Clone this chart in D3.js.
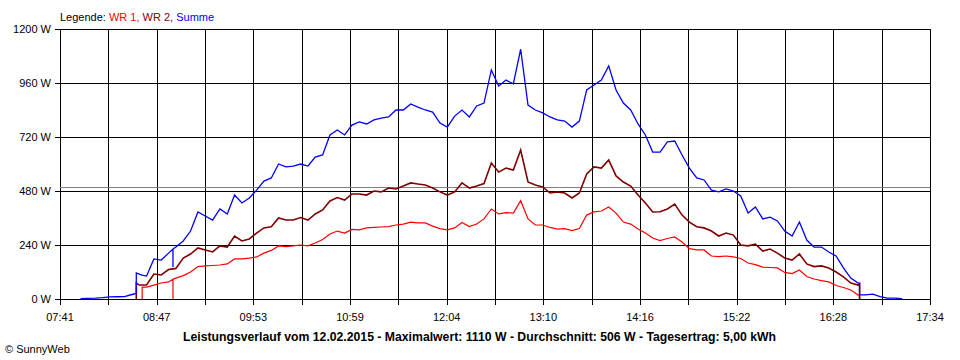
<!DOCTYPE html>
<html><head><meta charset="utf-8">
<script src="https://cdn.jsdelivr.net/npm/d3@7"></script>
<style>
body{margin:0;background:#fff}
svg{display:block}
text{font-family:"Liberation Sans",Arial,sans-serif;}
</style>
</head><body>
<svg id="c" width="960" height="360"></svg>
<script>
// ---- data ----
const times = ["07:55","08:00","08:05","08:10","08:15","08:20","08:25","08:30","08:33","08:33","08:35","08:37","08:37","08:40","08:45","08:50","08:55","08:58","08:58","08:58",
"09:00","09:05","09:10","09:15","09:20","09:25","09:30","09:35","09:40","09:45","09:50","09:55",
"10:00","10:05","10:10","10:15","10:20","10:25","10:30","10:35","10:40","10:45","10:50","10:55",
"11:00","11:05","11:10","11:15","11:20","11:25","11:30","11:35","11:40","11:45","11:50","11:55",
"12:00","12:05","12:10","12:15","12:20","12:25","12:30","12:35","12:40","12:45","12:50","12:55",
"13:00","13:05","13:10","13:15","13:20","13:25","13:30","13:35","13:40","13:45","13:50","13:55",
"14:00","14:05","14:10","14:15","14:20","14:25","14:30","14:35","14:40","14:45","14:50","14:55",
"15:00","15:05","15:10","15:15","15:20","15:25","15:30","15:35","15:40","15:45","15:50","15:55",
"16:00","16:05","16:10","16:15","16:20","16:25","16:30","16:35","16:40","16:45","16:46","16:46",
"16:50","16:55","17:00","17:05","17:10","17:15"];
const wr1 = [null,null,null,null,null,null,null,null,null,null,null,0,53,53,62,71,76,88,0,88,
93,104,120,144,147,149,151,156,178,178,182,187,
204,216,236,233,236,240,236,249,264,289,302,293,
309,307,316,318,320,322,329,333,342,338,338,324,
313,307,316,340,322,333,356,400,378,384,382,437,
356,329,329,318,311,313,304,313,373,387,391,409,
382,342,333,311,293,271,260,269,276,253,224,218,
218,191,188,191,187,180,160,153,142,140,138,118,
113,129,100,89,82,76,60,51,40,18,13,0,
null,null,null,null,null,null];
const wr2 = [null,null,null,null,null,null,null,null,0,71,62,62,62,62,111,107,131,134,134,134,
136,182,200,227,218,209,236,231,280,258,267,293,
316,321,360,351,351,362,351,378,396,436,451,440,
467,467,462,480,476,493,489,502,516,511,507,493,
476,462,476,516,493,502,513,604,564,582,573,662,
520,507,498,471,476,471,449,471,556,587,582,618,
547,520,502,462,427,387,388,400,422,373,342,321,
316,302,280,293,284,240,236,244,213,222,204,182,
173,200,156,144,147,138,120,98,71,62,67,0,
null,null,null,null,null,null];
const summe = [2,3,4,6,9,10,11,20,25,116,111,106,106,102,178,173,204,222,142,222,
231,258,302,387,369,351,400,378,462,427,449,484,
524,538,600,587,591,600,591,631,640,729,751,729,
773,787,778,796,804,809,840,840,867,853,840,831,
782,764,813,840,809,858,871,1018,947,973,956,1110,
862,840,827,809,796,791,764,791,929,951,973,1036,
929,871,840,778,729,653,653,698,702,640,582,538,
529,484,476,489,480,458,382,409,356,364,347,302,
280,342,262,231,231,209,191,138,93,71,71,18,
18,22,11,4,4,2];
const xStart = "07:41", xEnd = "17:34";
const xTickLabels = ["07:41","08:47","09:53","10:59","12:04","13:10","14:16","15:22","16:28","17:34"];
const yTicks = [0,240,480,720,960,1200];
const avgLevel = 500;
const legendParts = [["Legende: ","#000000"],["WR 1, ","#ff0000"],["WR 2, ","#800000"],["Summe","#0000ff"]];
const titleText = "Leistungsverlauf vom 12.02.2015 - Maximalwert: 1110 W - Durchschnitt: 506 W - Tagesertrag: 5,00 kWh";
const creditText = "\u00A9 SunnyWeb";

// ---- drawing ----
const svg = d3.select("#c");
const L = 60, R = 930, T = 29, B = 299;
const toMin = s => { const [h,m] = s.split(":").map(Number); return h*60+m; };
const x = d3.scaleLinear().domain([toMin(xStart), toMin(xEnd)]).range([L, R]);
const y = d3.scaleLinear().domain([0, 1200]).range([B, T]);

const nGrid = (xTickLabels.length - 1) * 2;
const span = toMin(xEnd) - toMin(xStart);
const gridMins = d3.range(nGrid + 1).map(i => toMin(xStart) + i * span / nGrid);

const g = svg.append("g").attr("shape-rendering","crispEdges");
// horizontal grid + left ticks
g.selectAll("line.h").data(yTicks).join("line")
  .attr("x1", L-5).attr("x2", R).attr("y1", d => Math.round(y(d))+0.5).attr("y2", d => Math.round(y(d))+0.5)
  .attr("stroke","#000").attr("stroke-width",1);
// vertical grid + bottom ticks
g.selectAll("line.v").data(gridMins).join("line")
  .attr("x1", d => Math.round(x(d))+0.5).attr("x2", d => Math.round(x(d))+0.5)
  .attr("y1", T).attr("y2", B+6)
  .attr("stroke","#000").attr("stroke-width",1);
// average line
g.append("line").attr("x1", L).attr("x2", R)
  .attr("y1", Math.round(y(avgLevel))+0.5).attr("y2", Math.round(y(avgLevel))+0.5)
  .attr("stroke","#808080").attr("stroke-width",1);

// y labels
svg.selectAll("text.yl").data(yTicks).join("text")
  .attr("x", 51).attr("y", d => y(d)+4).attr("text-anchor","end")
  .attr("font-size","11px").attr("fill","#000").text(d => d + " W");
// x labels
svg.selectAll("text.xl").data(xTickLabels).join("text")
  .attr("x", (d,i) => x(gridMins[i*2])).attr("y", 321).attr("text-anchor","middle")
  .attr("font-size","11px").attr("fill","#000").text(d => d);

// series
const tm = times.map(toMin);
function drawSeries(vals, color, w){
  const pts = vals.map((v,i) => [tm[i], v]);
  const line = d3.line().defined(d => d[1] !== null).x(d => x(d[0])).y(d => y(d[1]));
  svg.append("path").attr("d", line(pts)).attr("fill","none")
    .attr("stroke", color).attr("stroke-width", w).attr("stroke-linejoin","miter");
}
drawSeries(wr1, "#ff0000", 1.2);
drawSeries(wr2, "#800000", 1.6);
drawSeries(summe, "#0000ff", 1.3);

// legend
const lg = svg.append("text").attr("x", 60).attr("y", 21).attr("font-size","11px");
legendParts.forEach(([t,c]) => lg.append("tspan").attr("fill", c).text(t));

// title
svg.append("text").attr("x", 479.5).attr("y", 341).attr("text-anchor","middle")
  .attr("font-size","12px").attr("font-weight","bold").attr("fill","#000")
  .attr("textLength", 593).attr("lengthAdjust","spacingAndGlyphs").text(titleText);
// credit
svg.append("text").attr("x", 5).attr("y", 353).attr("font-size","11px").attr("fill","#000").text(creditText);
</script>
</body></html>
